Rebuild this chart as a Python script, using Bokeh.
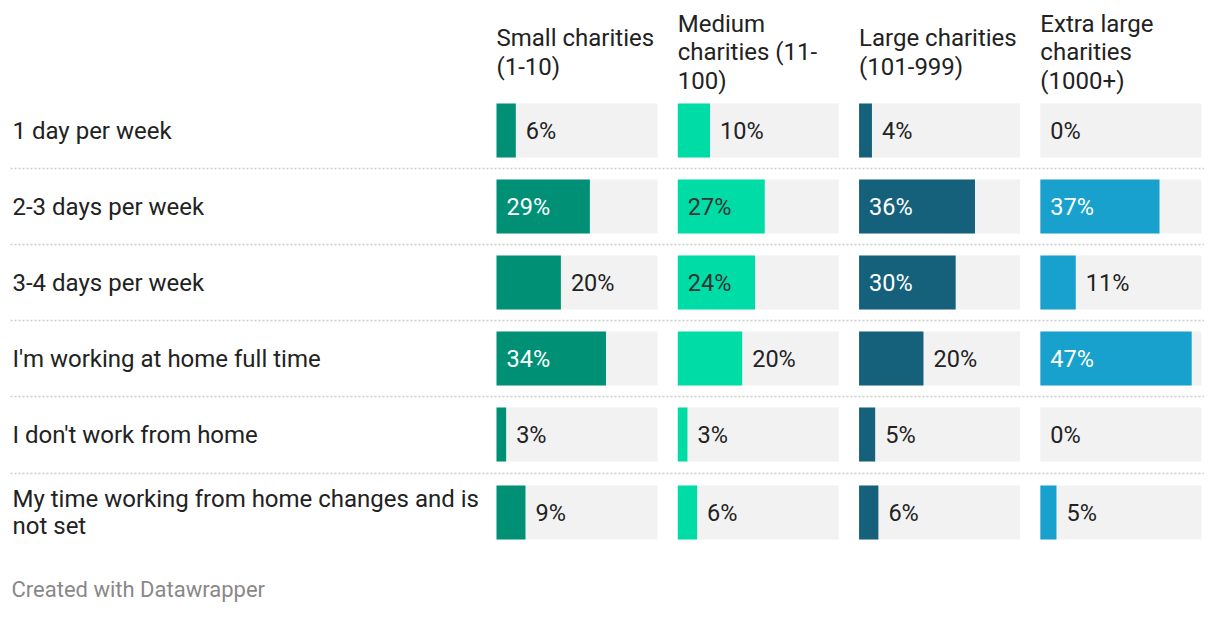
from bokeh.plotting import figure
from bokeh.models import ColumnDataSource, Range1d
from bokeh.core.properties import value
from bokeh.embed import file_html
from bokeh.resources import INLINE

# ---- data ----
categories = [
    "1 day per week",
    "2-3 days per week",
    "3-4 days per week",
    "I'm working at home full time",
    "I don't work from home",
    "My time working from home changes and is\nnot set",
]
groups = [
    "Small charities\n(1-10)",
    "Medium\ncharities (11-\n100)",
    "Large charities\n(101-999)",
    "Extra large\ncharities\n(1000+)",
]
small = [6, 29, 20, 34, 3, 9]
medium = [10, 27, 24, 20, 3, 6]
large = [4, 36, 30, 20, 5, 6]
extra_large = [0, 37, 11, 47, 0, 5]
series = [small, medium, large, extra_large]
max_value = 50
footer = "Created with Datawrapper"

# ---- styles / layout ----
colors = ["#009076", "#00dca6", "#15607a", "#18a1cd"]
inside_text_colors = ["#ffffff", "#333333", "#ffffff", "#ffffff"]
dark = "#222222"
bg_gray = "#f2f2f2"
font = value("Roboto")
W, H = 1204, 602
PX_PER_UNIT = 3.22
COL_STEP = 56.3
col_offsets = [k * COL_STEP for k in range(len(groups))]
x0 = -496 / PX_PER_UNIT
row_y = [130, 206, 282, 358, 434, 512]
sep_y = [168, 244, 320, 396, 473]
bar_h = 54
inside_threshold = 24


def px2x(px):
    return x0 + px / PX_PER_UNIT


p = figure(width=W, height=H, output_backend="svg", toolbar_location=None,
           x_range=Range1d(x0, x0 + W / PX_PER_UNIT), y_range=Range1d(H, 0),
           min_border=0, outline_line_color=None, background_fill_color="white",
           border_fill_color="white")
p.axis.visible = False
p.grid.visible = False

# separators
for y in sep_y:
    p.line(x=[px2x(10), px2x(1208)], y=[y, y], line_color="#cccccc",
           line_width=1.5, line_dash="2 2")

# row labels
p.text(x=[px2x(12)] * len(categories), y=row_y, text=categories,
       text_font=font, text_font_size="24px", text_color=dark,
       text_baseline="middle", text_align="left", text_line_height=0.99)

# headers
p.text(x=[o for o in col_offsets], y=[52] * len(groups), text=groups,
       text_font=font, text_font_size="24px", text_color=dark,
       text_baseline="middle", text_align="left", text_line_height=1.02)

for k, vals in enumerate(series):
    off = col_offsets[k]
    n = len(vals)
    p.hbar(y=row_y, left=[off] * n, right=[off + max_value] * n, height=bar_h,
           fill_color=bg_gray, line_color=None)
    p.hbar(y=row_y, left=[off] * n, right=[off + v for v in vals], height=bar_h,
           fill_color=colors[k], line_color=None)
    lx, ly, lt, lc = [], [], [], []
    for v, y in zip(vals, row_y):
        inside = v >= inside_threshold
        lx.append(off if inside else off + v)
        ly.append(y)
        lt.append(f"{v}%")
        lc.append(inside_text_colors[k] if inside else dark)
    src = ColumnDataSource(dict(x=lx, y=ly, t=lt, c=lc))
    p.text(x="x", y="y", text="t", text_color="c", source=src, x_offset=10,
           text_font=font, text_font_size="23.5px", text_baseline="middle",
           text_align="left")

# footer
p.text(x=[px2x(11)], y=[589], text=[footer], text_font=font,
       text_font_size="22px", text_color="#888888", text_baseline="middle",
       text_align="left")

open("out.html", "w").write(file_html(p, INLINE))
